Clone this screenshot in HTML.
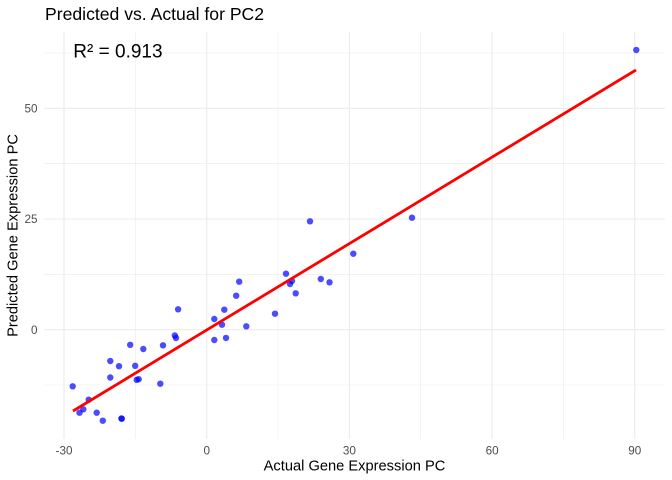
<!DOCTYPE html>
<html><head><meta charset="utf-8"><style>
html,body{margin:0;padding:0;background:#fff;}
svg{display:block;font-family:"Liberation Sans",Arial,sans-serif;}
</style></head><body>
<svg width="672" height="480" viewBox="0 0 672 480" xmlns="http://www.w3.org/2000/svg">
<rect width="672" height="480" fill="#fff"/>
<g stroke="#ebebeb" stroke-width="0.6" fill="none">
<line x1="44" x2="665" y1="53" y2="53"/>
<line x1="44" x2="665" y1="163.7" y2="163.7"/>
<line x1="44" x2="665" y1="274.4" y2="274.4"/>
<line x1="44" x2="665" y1="385" y2="385"/>
<line y1="32" y2="439" x1="135.4" x2="135.4"/>
<line y1="32" y2="439" x1="278" x2="278"/>
<line y1="32" y2="439" x1="420.7" x2="420.7"/>
<line y1="32" y2="439" x1="563.4" x2="563.4"/>
</g>
<g stroke="#ebebeb" stroke-width="1.1" fill="none">
<line x1="44" x2="665" y1="108.3" y2="108.3"/>
<line x1="44" x2="665" y1="219" y2="219"/>
<line x1="44" x2="665" y1="329.7" y2="329.7"/>
<line y1="32" y2="439" x1="64" x2="64"/>
<line y1="32" y2="439" x1="206.7" x2="206.7"/>
<line y1="32" y2="439" x1="349.4" x2="349.4"/>
<line y1="32" y2="439" x1="492.1" x2="492.1"/>
<line y1="32" y2="439" x1="634.7" x2="634.7"/>
</g>
<g fill="#0000ff" fill-opacity="0.7">
<circle cx="72.7" cy="386.3" r="3.2"/>
<circle cx="79.5" cy="412.7" r="3.2"/>
<circle cx="83.3" cy="409.3" r="3.2"/>
<circle cx="88.7" cy="399.7" r="3.2"/>
<circle cx="96.7" cy="412.7" r="3.2"/>
<circle cx="102.8" cy="420.7" r="3.2"/>
<circle cx="110.3" cy="361" r="3.2"/>
<circle cx="110.3" cy="377.5" r="3.2"/>
<circle cx="119" cy="366.2" r="3.2"/>
<circle cx="121.4" cy="418.5" r="3.2"/>
<circle cx="121.8" cy="418.7" r="3.2"/>
<circle cx="130.2" cy="344.8" r="3.2"/>
<circle cx="135.2" cy="365.8" r="3.2"/>
<circle cx="136.7" cy="379.8" r="3.2"/>
<circle cx="138.7" cy="379.2" r="3.2"/>
<circle cx="143.3" cy="349" r="3.2"/>
<circle cx="160.3" cy="383.7" r="3.2"/>
<circle cx="163" cy="345.3" r="3.2"/>
<circle cx="174.8" cy="335.5" r="3.2"/>
<circle cx="176" cy="338" r="3.2"/>
<circle cx="178.1" cy="309.3" r="3.2"/>
<circle cx="214.3" cy="319" r="3.2"/>
<circle cx="214.3" cy="340" r="3.2"/>
<circle cx="222" cy="324.7" r="3.2"/>
<circle cx="224.3" cy="309.7" r="3.2"/>
<circle cx="226" cy="337.9" r="3.2"/>
<circle cx="236.2" cy="295.7" r="3.2"/>
<circle cx="239.2" cy="281.7" r="3.2"/>
<circle cx="246.3" cy="326.3" r="3.2"/>
<circle cx="275" cy="313.7" r="3.2"/>
<circle cx="286" cy="273.7" r="3.2"/>
<circle cx="290" cy="284" r="3.2"/>
<circle cx="292" cy="281" r="3.2"/>
<circle cx="295.7" cy="293.3" r="3.2"/>
<circle cx="310" cy="221.3" r="3.2"/>
<circle cx="320.8" cy="279" r="3.2"/>
<circle cx="329.5" cy="282.3" r="3.2"/>
<circle cx="353.3" cy="253.7" r="3.2"/>
<circle cx="412" cy="217.7" r="3.2"/>
<circle cx="636.3" cy="50" r="3.2"/>
</g>
<line x1="73" y1="411" x2="636" y2="70" stroke="#ff0000" stroke-width="2.8"/>
<g fill="#4d4d4d" font-size="11.7">
<text x="37.5" y="112.5" text-anchor="end">50</text>
<text x="37.5" y="223.2" text-anchor="end">25</text>
<text x="37.5" y="333.9" text-anchor="end">0</text>
<text x="64" y="454.3" text-anchor="middle">-30</text>
<text x="206.7" y="454.3" text-anchor="middle">0</text>
<text x="349.4" y="454.3" text-anchor="middle">30</text>
<text x="492.1" y="454.3" text-anchor="middle">60</text>
<text x="634.7" y="454.3" text-anchor="middle">90</text>
</g>
<text x="354.5" y="470.5" text-anchor="middle" font-size="14.67" fill="#000">Actual Gene Expression PC</text>
<text transform="translate(17.5,235.5) rotate(-90)" text-anchor="middle" font-size="14.67" fill="#000">Predicted Gene Expression PC</text>
<text x="45" y="20" font-size="17.6" fill="#000">Predicted vs. Actual for PC2</text>
<text x="73.3" y="57.3" font-size="19" fill="#000">R² = 0.913</text>
</svg>
</body></html>
